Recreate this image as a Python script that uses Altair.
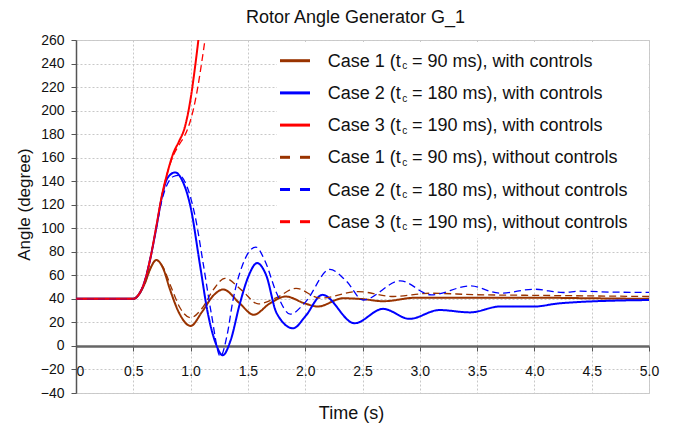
import altair as alt
import pandas as pd

# ---------------- data ----------------
cases = ["Case 1", "Case 2", "Case 3"]
clear_ms = ["90", "180", "190"]
case_colors = ["#993300", "#0000ff", "#ff0000"]
controls = ["with controls", "without controls"]

# Case 1 (tc = 90 ms)
t_c1_with = [0, 0.5, 0.55, 0.6, 0.65, 0.7, 0.76, 0.82, 0.9, 1.0, 1.1, 1.2, 1.285, 1.43, 1.55, 1.69, 1.83, 2.0, 2.11, 2.33, 2.5, 2.68, 2.97, 3.5, 4.0, 4.5, 5.0]
v_c1_with = [40, 40, 44, 53, 66, 73, 66, 48, 28, 17, 29, 43, 48, 36, 26.5, 36, 42, 36, 33.5, 40.5, 39.8, 38, 41, 41, 41, 40.5, 40]
t_c1_without = [0, 0.5, 0.55, 0.6, 0.65, 0.7, 0.76, 0.83, 0.91, 1.0, 1.1, 1.2, 1.3, 1.45, 1.59, 1.75, 1.92, 2.13, 2.46, 2.77, 3.09, 3.5, 4.0, 4.5, 5.0]
v_c1_without = [40, 40, 44, 53, 66, 73, 67, 50, 32, 24, 32, 48, 57.5, 47, 35.7, 41, 49, 40.6, 46.2, 42, 44.8, 43.5, 43, 42.5, 42]

# Case 2 (tc = 180 ms)
t_c2_with = [0, 0.5, 0.55, 0.6, 0.65, 0.7, 0.75, 0.8, 0.865, 0.93, 1.0, 1.08, 1.15, 1.22, 1.28, 1.35, 1.43, 1.5, 1.58, 1.66, 1.75, 1.895, 2.0, 2.15, 2.43, 2.68, 2.91, 3.17, 3.44, 3.7, 4.0, 4.2, 4.42, 4.7, 5.0]
v_c2_with = [40, 40, 44, 55, 75, 100, 127, 143, 147.5, 140, 118, 70, 28, 2, -8, 5, 36, 58, 70.4, 60, 28, 15, 25, 43.4, 19.3, 31.5, 23, 30.5, 28.5, 33.5, 33.5, 36, 37.5, 38.5, 39]
t_c2_without = [0, 0.5, 0.55, 0.6, 0.65, 0.7, 0.75, 0.8, 0.85, 0.9, 0.97, 1.04, 1.11, 1.18, 1.26, 1.32, 1.37, 1.45, 1.57, 1.65, 1.75, 1.87, 2.0, 2.215, 2.36, 2.505, 2.83, 3.1, 3.44, 3.7, 4.0, 4.25, 4.4, 4.7, 5.0]
v_c2_without = [40, 40, 44, 55, 75, 100, 124, 138, 144, 145, 135, 110, 70, 28, -9, 10, 39, 68, 84, 72, 45, 27, 37, 65, 55, 39, 55.3, 43.4, 51, 44.8, 48.2, 45.4, 46.5, 45.7, 45.5]

# Case 3 (tc = 190 ms) - unstable, leaves the plot at the top
t_c3_with = [0, 0.5, 0.55, 0.6, 0.65, 0.7, 0.75, 0.8, 0.85, 0.9, 0.95, 1.0, 1.04, 1.07, 1.1]
v_c3_with = [40, 40, 44, 55, 75, 101, 128, 148, 164, 174, 186, 210, 238, 262, 290]
t_c3_without = [0, 0.5, 0.55, 0.6, 0.65, 0.7, 0.75, 0.8, 0.85, 0.9, 0.95, 1.0, 1.05, 1.1, 1.125, 1.15]
v_c3_without = [40, 40, 44, 55, 75, 101, 128, 148, 162, 171, 179, 192, 213, 243, 260, 280]

x_ticks = [0, 0.5, 1.0, 1.5, 2.0, 2.5, 3.0, 3.5, 4.0, 4.5, 5.0]
y_ticks = list(range(-40, 261, 20))

series = [
    ("Case 1", "with controls", t_c1_with, v_c1_with),
    ("Case 2", "with controls", t_c2_with, v_c2_with),
    ("Case 3", "with controls", t_c3_with, v_c3_with),
    ("Case 1", "without controls", t_c1_without, v_c1_without),
    ("Case 2", "without controls", t_c2_without, v_c2_without),
    ("Case 3", "without controls", t_c3_without, v_c3_without),
]

rows = []
for case, ctrl, ts, vs in series:
    for t, v in zip(ts, vs):
        rows.append({"case": case, "control": ctrl, "series": case + " " + ctrl, "t": t, "v": v})
df = pd.DataFrame(rows)

FONT = "Liberation Sans"
W, H = 573, 353

lines = alt.Chart(df).mark_line(clip=True, interpolate="monotone").encode(
    x=alt.X("t:Q", title="Time (s)",
            scale=alt.Scale(domain=[0, 5], nice=False, zero=False),
            axis=alt.Axis(values=x_ticks, offset=-47,
                          labelExpr="datum.value === 0 ? '0' : format(datum.value, '.1f')",
                          labelAlign={"condition": {"test": "datum.value === 0", "value": "left"}, "value": "center"},
                          labelFontSize=14, labelPadding=13, tickSize=5, tickColor="#555",
                          domainColor="#666", domainWidth=2.5,
                          grid=True, gridColor="#c8c8c8", gridDash=[2, 2],
                          titleFontSize=18, titleX=275, titleY=67, titleBaseline="middle")),
    y=alt.Y("v:Q", title="Angle (degree)",
            scale=alt.Scale(domain=[-40, 260], nice=False, zero=False),
            axis=alt.Axis(values=y_ticks, labelFontSize=14, labelPadding=7, tickSize=5,
                          tickColor="#555", domainColor="#555", domainWidth=1.5,
                          grid=True, gridColor="#c8c8c8", gridDash=[2, 2],
                          titleFontSize=17, titleX=-52, titleY=164, titleAngle=-90,
                          titleAlign="center", titleBaseline="middle")),
    color=alt.Color("case:N", scale=alt.Scale(domain=cases, range=case_colors), legend=None),
    strokeDash=alt.StrokeDash("control:N", scale=alt.Scale(domain=controls, range=[[1, 0], [7, 4]]), legend=None),
    strokeWidth=alt.StrokeWidth("control:N", scale=alt.Scale(domain=controls, range=[2, 1.3]), legend=None),
    detail="series:N",
)

# ---------------- custom legend (subscript c) ----------------
row_gap = 32.2
row0 = 20.7
leg_rows = []
leg_segs = []
for i, (case, ctrl, _, _) in enumerate(series):
    k = cases.index(case)
    y = row0 + i * row_gap
    leg_rows.append({"case": case, "pre": case + " (t", "sub": "c",
                     "post": "= " + clear_ms[k] + " ms), " + ctrl,
                     "base": y + 6, "subbase": y + 8.6})
    if ctrl == "with controls":
        leg_segs.append({"case": case, "x1": 204, "x2": 234, "ly": y})
    else:
        leg_segs.append({"case": case, "x1": 204, "x2": 214, "ly": y})
        leg_segs.append({"case": case, "x1": 224, "x2": 234, "ly": y})
leg_df = pd.DataFrame(leg_rows)
seg_df = pd.DataFrame(leg_segs)

leg_bg = alt.Chart(pd.DataFrame({"a": [0]})).mark_rect(fill="white", stroke=None).encode(
    x=alt.value(201), x2=alt.value(571), y=alt.value(2), y2=alt.value(198))

leg_sym = alt.Chart(seg_df).mark_rule(strokeWidth=3).encode(
    x=alt.X("x1:Q", scale=None), x2="x2:Q", y=alt.Y("ly:Q", scale=None),
    color=alt.Color("case:N", scale=alt.Scale(domain=cases, range=case_colors), legend=None))

leg_pre = alt.Chart(leg_df).mark_text(align="left", baseline="alphabetic", fontSize=18, font=FONT, color="#111").encode(
    x=alt.value(251.7), y=alt.Y("base:Q", scale=None), text="pre:N")
leg_sub = alt.Chart(leg_df).mark_text(align="left", baseline="alphabetic", fontSize=10, font=FONT, color="#111").encode(
    x=alt.value(326.2), y=alt.Y("subbase:Q", scale=None), text="sub:N")
leg_post = alt.Chart(leg_df).mark_text(align="left", baseline="alphabetic", fontSize=18, font=FONT, color="#111").encode(
    x=alt.value(336), y=alt.Y("base:Q", scale=None), text="post:N")

chart = alt.layer(lines, leg_bg, leg_sym, leg_pre, leg_sub, leg_post).resolve_scale(
    x="independent", y="independent"
).properties(
    width=W, height=H,
    title=alt.TitleParams("Rotor Angle Generator G_1", fontSize=18, fontWeight="normal",
                          font=FONT, color="#111", anchor="middle", dx=-7, offset=6),
    autosize=alt.AutoSizeParams(type="none"),
    padding={"left": 68, "top": 32, "right": 16, "bottom": 30},
).configure_view(stroke="#cccccc", strokeWidth=1).configure_axis(
    labelFont=FONT, titleFont=FONT, labelColor="#111", titleColor="#111", titleFontWeight="normal"
)

chart.save("out.html", embed_options={"renderer": "svg", "actions": False})
